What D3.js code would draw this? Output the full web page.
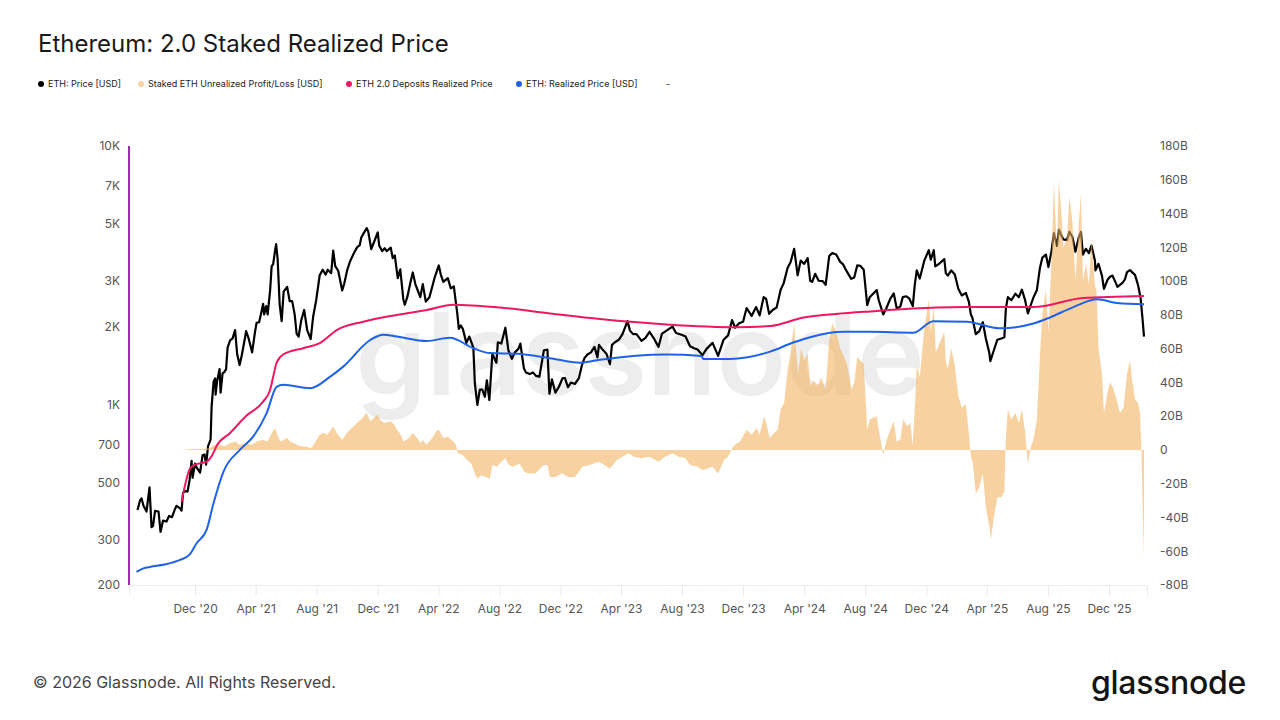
<!DOCTYPE html>
<html>
<head>
<meta charset="utf-8">
<script src="https://cdn.jsdelivr.net/npm/d3@7"></script>
<style>
  body { margin: 0; background: #fff; }
  svg text { font-family: Inter, "Liberation Sans", sans-serif; }
</style>
</head>
<body>
<div id="chart"></div>
<script>
// ETH: Price [USD]
const ethPrice = [
  ["2020-08-08",390],["2020-08-13",425],["2020-08-16",433],["2020-08-20",405],["2020-08-26",385],["2020-09-01",477],
  ["2020-09-05",335],["2020-09-08",338],["2020-09-12",387],["2020-09-19",385],["2020-09-23",321],["2020-09-28",355],
  ["2020-10-05",352],["2020-10-10",370],["2020-10-16",366],["2020-10-21",390],["2020-10-25",405],["2020-11-01",396],
  ["2020-11-04",388],["2020-11-07",455],["2020-11-11",462],["2020-11-16",460],["2020-11-20",510],["2020-11-24",605],
  ["2020-11-26",520],["2020-12-01",590],["2020-12-04",570],["2020-12-11",545],["2020-12-16",635],["2020-12-20",640],
  ["2020-12-23",585],["2020-12-27",690],["2021-01-01",730],["2021-01-03",975],["2021-01-07",1225],["2021-01-10",1260],
  ["2021-01-11",1090],["2021-01-14",1230],["2021-01-19",1370],["2021-01-21",1110],["2021-01-25",1320],["2021-01-28",1330],
  ["2021-02-01",1370],["2021-02-04",1660],["2021-02-09",1770],["2021-02-14",1800],["2021-02-19",1940],["2021-02-23",1570],
  ["2021-02-28",1420],["2021-03-04",1540],["2021-03-11",1820],["2021-03-13",1920],["2021-03-18",1800],["2021-03-25",1590],
  ["2021-03-31",1920],["2021-04-03",2070],["2021-04-08",2080],["2021-04-13",2300],["2021-04-16",2450],["2021-04-18",2230],
  ["2021-04-22",2400],["2021-04-25",2230],["2021-04-30",2770],["2021-05-03",3420],["2021-05-06",3490],["2021-05-10",3950],
  ["2021-05-12",4170],["2021-05-15",3650],["2021-05-19",2440],["2021-05-23",2100],["2021-05-27",2730],["2021-06-03",2850],
  ["2021-06-08",2510],["2021-06-13",2510],["2021-06-18",2230],["2021-06-22",1875],["2021-06-26",1830],["2021-07-01",2110],
  ["2021-07-07",2320],["2021-07-13",1940],["2021-07-20",1790],["2021-07-25",2190],["2021-07-31",2530],["2021-08-07",3160],
  ["2021-08-13",3320],["2021-08-19",3180],["2021-08-23",3320],["2021-08-30",3220],["2021-09-03",3940],["2021-09-07",3430],
  ["2021-09-13",3290],["2021-09-21",2760],["2021-09-25",2930],["2021-10-01",3310],["2021-10-07",3590],["2021-10-15",3870],
  ["2021-10-21",4060],["2021-10-26",4130],["2021-10-29",4420],["2021-11-03",4600],["2021-11-09",4810],["2021-11-12",4670],
  ["2021-11-18",3990],["2021-11-24",4270],["2021-12-01",4630],["2021-12-04",4110],["2021-12-10",3920],["2021-12-15",4020],
  ["2021-12-19",3920],["2021-12-27",4040],["2021-12-31",3680],["2022-01-04",3770],["2022-01-10",3080],["2022-01-15",3330],
  ["2022-01-21",2560],["2022-01-24",2430],["2022-01-29",2600],["2022-02-05",3000],["2022-02-09",3240],["2022-02-14",2930],
  ["2022-02-18",2790],["2022-02-24",2600],["2022-03-01",2920],["2022-03-07",2500],["2022-03-14",2590],["2022-03-20",2860],
  ["2022-03-25",3110],["2022-04-02",3450],["2022-04-06",3180],["2022-04-11",2980],["2022-04-20",3080],["2022-04-26",2810],
  ["2022-05-02",2860],["2022-05-09",2240],["2022-05-12",1960],["2022-05-16",2020],["2022-05-20",1960],["2022-05-27",1730],
  ["2022-06-02",1830],["2022-06-10",1660],["2022-06-13",1210],["2022-06-18",995],["2022-06-23",1140],["2022-06-28",1140],
  ["2022-07-03",1070],["2022-07-07",1240],["2022-07-12",1040],["2022-07-18",1570],["2022-07-26",1450],["2022-07-29",1740],
  ["2022-08-05",1720],["2022-08-13",1980],["2022-08-19",1620],["2022-08-26",1500],["2022-09-01",1590],["2022-09-08",1640],
  ["2022-09-12",1720],["2022-09-19",1380],["2022-09-23",1330],["2022-10-01",1310],["2022-10-07",1330],["2022-10-13",1290],
  ["2022-10-20",1280],["2022-10-29",1620],["2022-11-05",1630],["2022-11-09",1100],["2022-11-14",1250],["2022-11-21",1110],
  ["2022-11-28",1170],["2022-12-05",1260],["2022-12-10",1265],["2022-12-16",1165],["2022-12-22",1215],["2022-12-30",1200],
  ["2023-01-07",1265],["2023-01-13",1420],["2023-01-18",1510],["2023-01-24",1560],["2023-01-31",1590],["2023-02-07",1670],
  ["2023-02-13",1520],["2023-02-16",1700],["2023-02-22",1640],["2023-03-03",1570],["2023-03-10",1430],["2023-03-14",1700],
  ["2023-03-20",1740],["2023-03-28",1780],["2023-04-04",1870],["2023-04-14",2100],["2023-04-19",1930],["2023-04-25",1870],
  ["2023-05-02",1870],["2023-05-12",1760],["2023-05-20",1810],["2023-05-28",1910],["2023-06-05",1810],["2023-06-15",1670],
  ["2023-06-22",1880],["2023-07-01",1930],["2023-07-13",2000],["2023-07-20",1890],["2023-07-31",1860],["2023-08-08",1830],
  ["2023-08-17",1680],["2023-08-25",1650],["2023-09-01",1630],["2023-09-11",1550],["2023-09-19",1640],["2023-10-01",1730],
  ["2023-10-12",1540],["2023-10-23",1780],["2023-11-01",1850],["2023-11-09",2120],["2023-11-15",1980],["2023-11-23",2060],
  ["2023-12-01",2090],["2023-12-08",2360],["2023-12-18",2200],["2023-12-27",2380],["2024-01-03",2210],["2024-01-11",2600],
  ["2024-01-16",2560],["2024-01-22",2240],["2024-01-29",2320],["2024-02-06",2370],["2024-02-14",2780],["2024-02-20",2940],
  ["2024-02-28",3380],["2024-03-05",3560],["2024-03-12",4000],["2024-03-19",3160],["2024-03-25",3600],["2024-04-01",3500],
  ["2024-04-08",3680],["2024-04-13",3010],["2024-04-17",2980],["2024-04-23",3200],["2024-04-30",3010],["2024-05-08",3000],
  ["2024-05-14",2900],["2024-05-21",3750],["2024-05-27",3850],["2024-06-04",3800],["2024-06-12",3560],["2024-06-18",3480],
  ["2024-06-24",3300],["2024-07-04",3060],["2024-07-10",3100],["2024-07-16",3450],["2024-07-22",3440],["2024-07-29",3320],
  ["2024-08-05",2420],["2024-08-10",2600],["2024-08-24",2770],["2024-08-28",2530],["2024-09-06",2230],["2024-09-12",2350],
  ["2024-09-20",2560],["2024-09-27",2690],["2024-10-03",2350],["2024-10-10",2390],["2024-10-15",2600],["2024-10-22",2620],
  ["2024-10-28",2570],["2024-11-04",2400],["2024-11-08",2900],["2024-11-12",3300],["2024-11-18",3070],["2024-11-27",3600],
  ["2024-12-06",3950],["2024-12-10",3630],["2024-12-16",3950],["2024-12-19",3420],["2024-12-25",3480],["2025-01-06",3650],
  ["2025-01-09",3220],["2025-01-13",3150],["2025-01-20",3300],["2025-01-27",3180],["2025-02-03",2800],["2025-02-10",2640],
  ["2025-02-18",2700],["2025-02-24",2500],["2025-02-28",2230],["2025-03-03",2170],["2025-03-10",1870],["2025-03-17",1920],
  ["2025-03-24",2080],["2025-03-30",1800],["2025-04-06",1580],["2025-04-08",1470],["2025-04-15",1620],["2025-04-22",1780],
  ["2025-04-30",1800],["2025-05-06",1820],["2025-05-09",2350],["2025-05-13",2600],["2025-05-20",2530],["2025-05-28",2680],
  ["2025-06-04",2600],["2025-06-10",2780],["2025-06-16",2550],["2025-06-22",2250],["2025-06-28",2430],["2025-07-03",2590],
  ["2025-07-10",2770],["2025-07-16",3370],["2025-07-21",3700],["2025-07-28",3800],["2025-08-02",3400],["2025-08-08",3900],
  ["2025-08-13",4600],["2025-08-19",4100],["2025-08-23",4750],["2025-08-28",4500],["2025-09-01",4350],["2025-09-08",4320],
  ["2025-09-13",4650],["2025-09-19",4450],["2025-09-25",3900],["2025-10-02",4450],["2025-10-06",4650],["2025-10-10",3800],
  ["2025-10-16",4000],["2025-10-22",3850],["2025-10-27",4120],["2025-11-03",3600],["2025-11-04",3300],["2025-11-10",3500],
  ["2025-11-17",3150],["2025-11-21",2800],["2025-11-28",3030],["2025-12-03",3120],["2025-12-08",3150],["2025-12-13",3000],
  ["2025-12-18",2850],["2025-12-23",2900],["2025-12-28",2950],["2026-01-02",3050],["2026-01-06",3250],["2026-01-12",3310],
  ["2026-01-16",3250],["2026-01-22",3170],["2026-01-28",2900],["2026-02-02",2600],["2026-02-06",2150],["2026-02-09",1830]
];

// Staked ETH Unrealized Profit/Loss [USD], billions
const stakedPnl = [
  ["2020-11-04",0],["2020-11-24",0.5],["2020-12-10",0.5],["2020-12-31",1],["2021-01-08",3],["2021-01-14",2],["2021-01-20",3],
  ["2021-01-28",2],["2021-02-09",4],["2021-02-20",5],["2021-02-28",3],["2021-03-14",4],["2021-03-25",3],["2021-04-03",5],
  ["2021-04-16",6],["2021-04-25",5],["2021-04-30",8],["2021-05-05",11],["2021-05-10",13],["2021-05-13",10],["2021-05-20",5],
  ["2021-05-27",6],["2021-06-03",7],["2021-06-09",5],["2021-06-17",4],["2021-06-22",3],["2021-07-01",2],["2021-07-12",2],
  ["2021-07-20",1],["2021-07-26",3],["2021-08-01",6],["2021-08-07",9],["2021-08-14",10],["2021-08-22",9],["2021-08-28",11],
  ["2021-09-03",14],["2021-09-10",10],["2021-09-21",6],["2021-09-28",9],["2021-10-06",12],["2021-10-14",14],["2021-10-20",16],
  ["2021-10-29",18],["2021-11-09",22],["2021-11-16",17],["2021-11-24",19],["2021-12-01",21],["2021-12-05",18],["2021-12-14",16],
  ["2021-12-27",17],["2022-01-03",15],["2022-01-08",12],["2022-01-14",10],["2022-01-22",5],["2022-02-01",7],["2022-02-09",10],
  ["2022-02-18",7],["2022-02-24",4],["2022-03-01",6],["2022-03-08",3],["2022-03-20",7],["2022-03-28",11],["2022-04-02",12],
  ["2022-04-11",7],["2022-04-20",8],["2022-05-01",5],["2022-05-06",3],["2022-05-10",-2],["2022-05-20",-3],["2022-05-28",-6],
  ["2022-06-06",-8],["2022-06-13",-14],["2022-06-18",-17],["2022-06-26",-15],["2022-07-05",-16],["2022-07-13",-17],
  ["2022-07-18",-9],["2022-07-27",-10],["2022-08-05",-7],["2022-08-13",-5],["2022-08-20",-9],["2022-08-28",-10],
  ["2022-09-10",-8],["2022-09-20",-13],["2022-09-28",-14],["2022-10-12",-14],["2022-10-28",-9],["2022-11-05",-9],
  ["2022-11-10",-16],["2022-11-21",-16],["2022-12-05",-14],["2022-12-16",-16],["2022-12-30",-16],["2023-01-14",-10],
  ["2023-01-28",-9],["2023-02-16",-7],["2023-03-10",-11],["2023-03-24",-6],["2023-04-04",-4],["2023-04-16",-2],
  ["2023-04-27",-4],["2023-05-12",-5],["2023-05-28",-4],["2023-06-15",-7],["2023-06-28",-4],["2023-07-13",-2],
  ["2023-07-25",-4],["2023-08-08",-5],["2023-08-17",-9],["2023-09-01",-10],["2023-09-11",-12],["2023-10-01",-10],
  ["2023-10-12",-14],["2023-10-24",-6],["2023-11-01",-4],["2023-11-09",1],["2023-11-15",3],["2023-11-25",5],["2023-12-08",12],
  ["2023-12-18",9],["2023-12-28",13],["2024-01-03",9],["2024-01-12",20],["2024-01-17",15],["2024-01-23",7],["2024-02-01",10],
  ["2024-02-08",12],["2024-02-14",24],["2024-02-21",28],["2024-02-28",47],["2024-03-05",58],["2024-03-12",75],["2024-03-16",58],
  ["2024-03-20",45],["2024-03-26",60],["2024-04-01",53],["2024-04-08",57],["2024-04-13",38],["2024-04-20",41],["2024-04-28",38],
  ["2024-05-05",43],["2024-05-14",36],["2024-05-21",65],["2024-05-27",75],["2024-06-04",70],["2024-06-12",60],["2024-06-20",55],
  ["2024-06-26",50],["2024-07-05",36],["2024-07-10",40],["2024-07-16",55],["2024-07-22",53],["2024-07-29",51],["2024-08-05",12],
  ["2024-08-10",18],["2024-08-24",20],["2024-08-28",12],["2024-09-06",-3],["2024-09-12",5],["2024-09-20",12],["2024-09-27",17],
  ["2024-10-03",5],["2024-10-10",6],["2024-10-16",18],["2024-10-24",14],["2024-10-30",16],["2024-11-04",3],["2024-11-09",30],
  ["2024-11-12",50],["2024-11-18",43],["2024-11-27",72],["2024-12-06",89],["2024-12-10",70],["2024-12-16",85],["2024-12-20",58],
  ["2024-12-26",62],["2025-01-06",70],["2025-01-09",52],["2025-01-13",48],["2025-01-20",60],["2025-01-27",50],["2025-02-03",32],
  ["2025-02-10",25],["2025-02-18",27],["2025-02-24",10],["2025-02-28",-4],["2025-03-04",-8],["2025-03-10",-26],["2025-03-17",-22],
  ["2025-03-24",-14],["2025-03-30",-34],["2025-04-06",-45],["2025-04-09",-53],["2025-04-15",-40],["2025-04-22",-28],
  ["2025-04-30",-28],["2025-05-06",-25],["2025-05-09",8],["2025-05-13",24],["2025-05-20",18],["2025-05-28",22],["2025-06-04",16],
  ["2025-06-10",24],["2025-06-16",12],["2025-06-22",-8],["2025-06-28",2],["2025-07-03",6],["2025-07-10",18],["2025-07-16",55],
  ["2025-07-21",81],["2025-07-28",95],["2025-08-02",70],["2025-08-08",110],["2025-08-13",158],["2025-08-19",118],["2025-08-23",160],
  ["2025-08-28",140],["2025-09-01",120],["2025-09-08",125],["2025-09-13",150],["2025-09-19",135],["2025-09-25",100],
  ["2025-10-02",135],["2025-10-06",152],["2025-10-10",100],["2025-10-16",110],["2025-10-22",98],["2025-10-27",125],
  ["2025-11-03",97],["2025-11-06",95],["2025-11-10",61],["2025-11-17",45],["2025-11-21",22],["2025-11-28",34],["2025-12-03",40],
  ["2025-12-09",37],["2025-12-16",30],["2025-12-23",22],["2025-12-30",25],["2026-01-06",45],["2026-01-12",53],["2026-01-17",40],
  ["2026-01-22",30],["2026-01-28",28],["2026-02-01",22],["2026-02-04",0],["2026-02-06",-30],["2026-02-09",-63]
];

// ETH 2.0 Deposits Realized Price
const depositsRealized = [
  ["2020-11-04",420],["2020-11-21",565],["2020-12-01",585],["2020-12-24",600],["2021-01-05",640],["2021-01-13",690],
  ["2021-02-09",775],["2021-03-14",905],["2021-04-16",1025],["2021-04-30",1140],["2021-05-08",1330],["2021-05-13",1450],
  ["2021-05-26",1560],["2021-07-05",1650],["2021-08-08",1730],["2021-09-10",1940],["2021-11-02",2090],["2022-01-08",2220],
  ["2022-03-09",2320],["2022-05-01",2430],["2022-08-02",2370],["2022-11-10",2250],["2023-02-18",2140],["2023-07-01",2040],
  ["2023-11-18",1990],["2024-01-24",2010],["2024-03-31",2170],["2024-06-05",2240],["2024-08-11",2290],["2024-12-22",2370],
  ["2025-02-20",2380],["2025-07-03",2380],["2025-10-10",2580],["2026-02-09",2630]
];

// ETH: Realized Price [USD]
const realizedPrice = [
  ["2020-08-06",225],["2020-08-20",232],["2020-09-02",235],["2020-10-01",240],["2020-11-01",250],["2020-11-20",262],
  ["2020-12-04",290],["2020-12-24",327],["2021-01-07",415],["2021-01-27",550],["2021-03-01",668],["2021-03-27",750],
  ["2021-04-23",925],["2021-05-13",1170],["2021-05-26",1190],["2021-07-19",1155],["2021-08-28",1280],["2021-09-23",1400],
  ["2021-11-16",1775],["2021-12-12",1860],["2022-01-08",1830],["2022-03-09",1760],["2022-04-24",1810],["2022-06-10",1650],
  ["2022-07-13",1580],["2022-09-05",1570],["2022-11-10",1510],["2023-01-09",1450],["2023-02-18",1490],["2023-07-01",1560],
  ["2023-09-09",1540],["2023-09-12",1500],["2023-11-05",1500],["2024-01-24",1600],["2024-03-10",1735],["2024-04-13",1820],
  ["2024-06-18",1910],["2024-08-11",1910],["2024-11-05",1895],["2024-12-15",2100],["2025-02-20",2090],["2025-04-27",1970],
  ["2025-07-03",2055],["2025-08-05",2170],["2025-09-21",2380],["2025-11-07",2550],["2025-12-17",2470],["2026-02-09",2440]
];

const xTicks = ["2020-12-01","2021-04-01","2021-08-01","2021-12-01","2022-04-01","2022-08-01","2022-12-01","2023-04-01",
  "2023-08-01","2023-12-01","2024-04-01","2024-08-01","2024-12-01","2025-04-01","2025-08-01","2025-12-01"];
const priceTicks = [200, 300, 500, 700, 1000, 2000, 3000, 5000, 7000, 10000];
const pnlTicks = [-80, -60, -40, -20, 0, 20, 40, 60, 80, 100, 120, 140, 160, 180];

const legendLabels = ["ETH: Price [USD]", "Staked ETH Unrealized Profit/Loss [USD]",
  "ETH 2.0 Deposits Realized Price", "ETH: Realized Price [USD]"];

const colors = {price: "#000000", pnl: "#f2b461", deposits: "#ec1862", realized: "#1f62e8"};

// Set dimensions and plot box
const width = 1280, height = 720;
const plot = {left: 129, right: 1147, top: 146, bottom: 585};

const svg = d3.select("#chart")
              .append("svg")
              .attr("width", width)
              .attr("height", height);

const parse = d3.timeParse("%Y-%m-%d");
const toPts = arr => arr.map(d => ({date: parse(d[0]), v: d[1]}));

const x = d3.scaleTime()
            .domain([parse("2020-07-22"), parse("2026-02-15")])
            .range([plot.left, plot.right]);
const yPrice = d3.scaleLog().domain([200, 10000]).range([plot.bottom, plot.top]);
const yPnl = d3.scaleLinear().domain([-80, 180]).range([plot.bottom, plot.top]);

// Title
svg.append("text")
   .attr("x", 38).attr("y", 52)
   .attr("font-size", 24).attr("fill", "#1a1a1a")
   .text("Ethereum: 2.0 Staked Realized Price");

// Legend
const legendX = [41, 141, 349, 519];
const legendColors = [colors.price, "#f8d3a3", colors.deposits, colors.realized];
legendLabels.forEach((label, i) => {
  svg.append("circle").attr("cx", legendX[i]).attr("cy", 84).attr("r", 3).attr("fill", legendColors[i]);
  svg.append("text").attr("x", legendX[i] + 7).attr("y", 84).attr("dy", "0.35em")
     .attr("font-size", 9).attr("fill", "#222").text(label);
});
svg.append("text").attr("x", 666).attr("y", 84).attr("dy", "0.35em")
   .attr("font-size", 9).attr("fill", "#222").text("-");

// Watermark
svg.append("text")
   .attr("x", 640).attr("y", 395)
   .attr("text-anchor", "middle")
   .attr("font-size", 114).attr("font-weight", 600)
   .attr("fill", "#ededed")
   .text("glassnode");

// X axis
const xAxis = svg.append("g")
   .attr("transform", `translate(0,${plot.bottom})`)
   .call(d3.axisBottom(x)
           .tickValues(xTicks.map(parse))
           .tickSize(11)
           .tickPadding(8)
           .tickFormat(d3.timeFormat("%b '%y")));
xAxis.select(".domain").attr("stroke", "#ececec");
xAxis.selectAll(".tick line").attr("stroke", "#e8e8e8");
xAxis.selectAll("text").attr("font-size", 12).attr("fill", "#555")
     .attr("font-family", "Inter, sans-serif");

// Left axis (log)
const yLeft = svg.append("g")
   .attr("transform", `translate(${plot.left},0)`)
   .call(d3.axisLeft(yPrice)
           .tickValues(priceTicks)
           .tickSize(0)
           .tickPadding(9)
           .tickFormat(v => v >= 1000 ? (v / 1000) + "K" : v));
yLeft.select(".domain").remove();
yLeft.selectAll("text").attr("font-size", 12).attr("fill", "#555")
     .attr("font-family", "Inter, sans-serif");

// Right axis
const yRight = svg.append("g")
   .attr("transform", `translate(${plot.right},0)`)
   .call(d3.axisRight(yPnl)
           .tickValues(pnlTicks)
           .tickSize(0)
           .tickPadding(13)
           .tickFormat(v => v === 0 ? "0" : v + "B"));
yRight.select(".domain").remove();
yRight.selectAll("text").attr("font-size", 12).attr("fill", "#555")
      .attr("font-family", "Inter, sans-serif");

// Purple left axis line
svg.append("line")
   .attr("x1", plot.left).attr("x2", plot.left)
   .attr("y1", plot.top).attr("y2", plot.bottom)
   .attr("stroke", "#9b2fae").attr("stroke-width", 2);

// Price line
svg.append("path")
   .datum(toPts(ethPrice))
   .attr("fill", "none")
   .attr("stroke", colors.price)
   .attr("stroke-width", 2.2)
   .attr("stroke-linejoin", "round")
   .attr("d", d3.line().x(d => x(d.date)).y(d => yPrice(d.v)));

// Staked unrealized profit/loss area (drawn over the price, translucent)
svg.append("path")
   .datum(toPts(stakedPnl))
   .attr("fill", colors.pnl)
   .attr("fill-opacity", 0.6)
   .attr("d", d3.area().x(d => x(d.date)).y0(yPnl(0)).y1(d => yPnl(d.v)));

// Realized price lines
const smooth = d3.line().curve(d3.curveMonotoneX).x(d => x(d.date)).y(d => yPrice(d.v));
svg.append("path")
   .datum(toPts(depositsRealized))
   .attr("fill", "none").attr("stroke", colors.deposits).attr("stroke-width", 2)
   .attr("d", smooth);
svg.append("path")
   .datum(toPts(realizedPrice))
   .attr("fill", "none").attr("stroke", colors.realized).attr("stroke-width", 2)
   .attr("d", smooth);

// Footer
svg.append("text")
   .attr("x", 33).attr("y", 688)
   .attr("font-size", 16).attr("fill", "#444")
   .text("© 2026 Glassnode. All Rights Reserved.");
svg.append("text")
   .attr("x", 1246).attr("y", 694)
   .attr("text-anchor", "end")
   .attr("font-size", 32).attr("font-weight", 500).attr("fill", "#141414")
   .attr("letter-spacing", "-0.3")
   .text("glassnode");
</script>
</body>
</html>
